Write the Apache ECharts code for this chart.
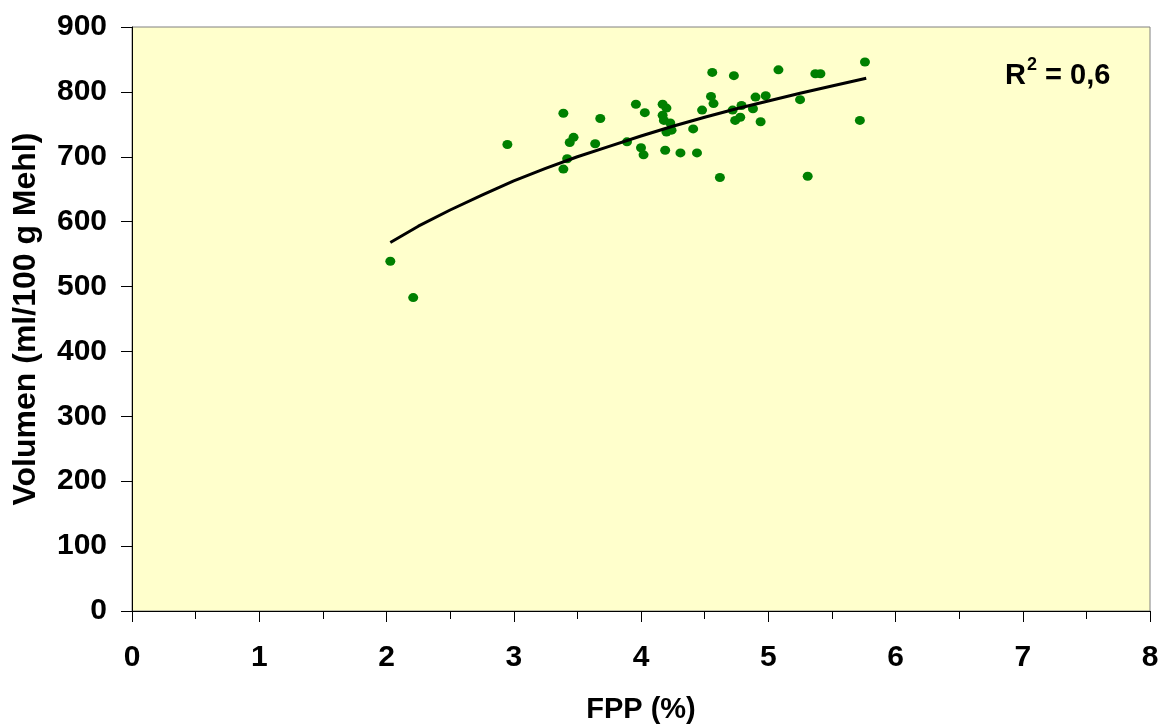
<!DOCTYPE html>
<html>
<head>
<meta charset="utf-8">
<script src="https://cdn.jsdelivr.net/npm/echarts@6/dist/echarts.min.js"></script>
<style>
html,body{margin:0;padding:0;background:#fff;}
#chart{width:1161px;height:725px;}
</style>
</head>
<body>
<div id="chart"></div>
<script>
// FPP (%) vs Volumen
var fppX=[2.03,2.21,2.95,3.39,3.47,3.44,3.42,3.39,3.68,3.64,3.89,3.96,4.03,4.00,4.02,4.17,4.20,4.17,4.18,4.23,4.20,4.24,4.19,4.31,4.41,4.44,4.48,4.56,4.55,4.57,4.62,4.73,4.72,4.74,4.78,4.79,4.88,4.90,4.98,4.94,5.08,5.25,5.31,5.37,5.41,5.72,5.76];
var volumenY=[539,483,719,767,730,722,697,681,759,720,723,781,768,714,703,781,775,764,756,752,738,741,710,706,743,706,772,830,793,782,668,825,772,756,761,779,774,792,794,754,834,788,670,828,828,756,846];

// trend line (log)
var trendX=[2.03,2.25,2.5,2.75,3,3.25,3.5,3.75,4,4.25,4.5,4.75,5,5.25,5.5,5.77];
var trendY=[568,593,618,641,663,682,700,716,732,747,761,774,786,798,809,821];

var xTicks=[0,1,2,3,4,5,6,7,8];
var yTicks=[0,100,200,300,400,500,600,700,800,900];
var r2Text="0,6";

var chart=echarts.init(document.getElementById("chart"));

var font="'Liberation Sans', Arial, sans-serif";

var chartoptions={
	animation:false,
	grid:{
		left:132,
		top:27,
		right:11,
		bottom:114,
		outerBoundsMode:'none',
		containLabel:false,
		show:true,
		backgroundColor:'#FFFFCC',
		borderColor:'#808080',
		borderWidth:1
	},
	xAxis:{
		type:'value',
		min:xTicks[0],
		max:xTicks[xTicks.length-1],
		interval:1,
		name:'FPP (%)',
		nameLocation:'middle',
		nameGap:84,
		nameTextStyle:{fontFamily:font,fontWeight:'bold',fontSize:29,color:'#000'},
		axisLine:{show:true,onZero:false,lineStyle:{color:'#000',width:1}},
		axisTick:{show:true,inside:false,length:11,lineStyle:{color:'#000'}},
		minorTick:{show:true,splitNumber:2,length:8,lineStyle:{color:'#000'}},
		splitLine:{show:false},
		axisLabel:{fontFamily:font,fontWeight:'bold',fontSize:30,color:'#000',margin:32}
	},
	yAxis:{
		type:'value',
		min:yTicks[0],
		max:yTicks[yTicks.length-1],
		interval:100,
		name:'Volumen (ml/100 g Mehl)',
		nameLocation:'middle',
		nameGap:90,
		nameTextStyle:{fontFamily:font,fontWeight:'bold',fontSize:32,color:'#000'},
		axisLine:{show:true,onZero:false,lineStyle:{color:'#000',width:1}},
		axisTick:{show:true,inside:false,length:11,lineStyle:{color:'#000'}},
		splitLine:{show:false},
		axisLabel:{fontFamily:font,fontWeight:'bold',fontSize:30,color:'#000',margin:25}
	},
	series:[
		{
			name:'Volumen',
			type:'scatter',
			data:fppX.map((x,index)=>[x,volumenY[index]]),
			symbol:'circle',
			symbolSize:[10,9],
			itemStyle:{color:'#008000',opacity:1},
			z:3
		},
		{
			name:'Trend',
			type:'line',
			data:trendX.map((x,index)=>[x,trendY[index]]),
			smooth:false,
			symbol:'none',
			lineStyle:{color:'#000',width:3,join:'round'},
			z:4
		}
	],
	graphic:[
		{
			type:'text',
			left:1005,
			top:56,
			style:{
				text:'{r|R}{s|2}{r| = '+r2Text+'}',
				fill:'#000',
				rich:{
					r:{fontFamily:font,fontWeight:'bold',fontSize:29,lineHeight:34,verticalAlign:'bottom'},
					s:{fontFamily:font,fontWeight:'bold',fontSize:18,lineHeight:34,verticalAlign:'top',padding:[0,0,14,1]}
				}
			}
		}
	]
};
chart.setOption(chartoptions);
</script>
</body>
</html>
